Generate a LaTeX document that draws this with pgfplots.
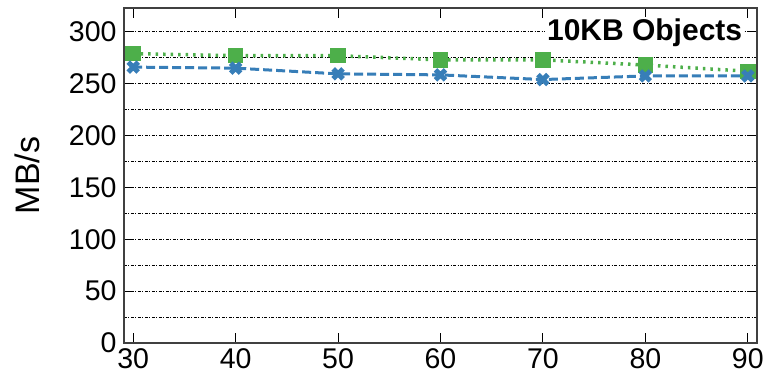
\documentclass[border=0pt]{standalone}
\usepackage{pgfplots}
\pgfplotsset{compat=1.18}
\usepackage{fontspec}
\setmainfont{Liberation Sans}
\definecolor{sblue}{RGB}{55,126,184}
\definecolor{sgreen}{RGB}{77,175,74}
\begin{document}
\begin{tikzpicture}
\begin{axis}[
  scale only axis, width=633pt, height=335pt,
  xmin=29.1, xmax=90.9, ymin=0, ymax=323,
  xtick={30,40,50,60,70,80,90},
  ytick={0,50,...,300},
  minor ytick={25,75,...,325},
  ymajorgrids, yminorgrids,
  major grid style={black, line width=0.8pt, dash pattern=on 3pt off 1.5pt on 1pt off 1.5pt},
  minor grid style={black, line width=0.8pt, dash pattern=on 3pt off 1.5pt on 1pt off 1.5pt},
  minor tick length=0pt,
  major tick length=10pt,
  tick align=inside,
  axis line style={black!75, line width=1.2pt},
  tick style={black, line width=1pt},
  /pgf/number format/assume math mode=true,
  ticklabel style={font=\fontsize{28.5}{32}\selectfont},
  xticklabel style={yshift=-2pt},
  yticklabel style={xshift=-4pt},
  ylabel={MB/s},
  ylabel style={font=\fontsize{34}{38}\selectfont, yshift=22pt},
  clip=false,
]
\addplot[sgreen, line width=3.5pt, dash pattern=on 2.5pt off 5pt, mark=square*, mark size=6pt, mark options={solid, fill=sgreen}]
  coordinates {(30,279) (40,277) (50,277) (60,273) (70,273) (80,268) (90,262)};
\addplot[sblue, line width=3pt, dash pattern=on 9pt off 4pt, mark=x, mark size=7pt, mark options={solid, line width=5pt}]
  coordinates {(30,266) (40,265) (50,259.5) (60,258.5) (70,254) (80,257.5) (90,257.5)};
\node[anchor=north east, fill=white, inner sep=2pt, font=\bfseries\fontsize{30}{34}\selectfont] at (rel axis cs:0.98,0.975) {10KB Objects};
\end{axis}
\pgfresetboundingbox
\path[use as bounding box] (-124pt,-31pt) rectangle (639pt,343pt);
\end{tikzpicture}
\end{document}
